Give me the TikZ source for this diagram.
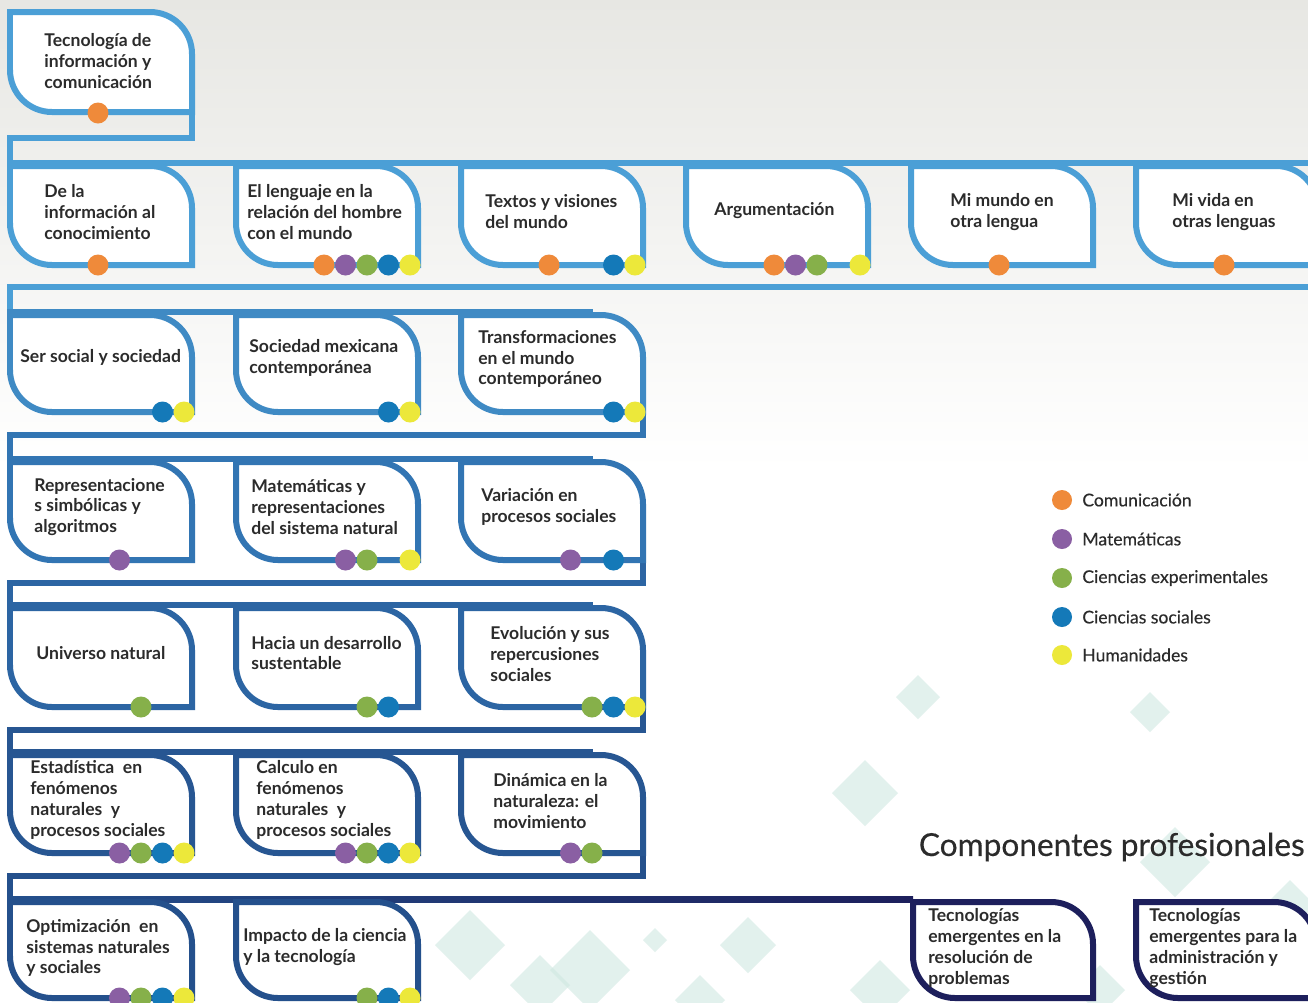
\documentclass[tikz,border=0pt]{standalone}
\usepackage{fontspec}
\setmainfont{Lato}
\newfontfamily\medianafont{Lato}[FakeBold=0.35]
\definecolor{fila1}{HTML}{4B9FD6}
\definecolor{fila2}{HTML}{3F8AC4}
\definecolor{fila3}{HTML}{3275B3}
\definecolor{fila4}{HTML}{2C65A3}
\definecolor{fila5}{HTML}{275692}
\definecolor{fila6}{HTML}{24508C}
\definecolor{prof}{HTML}{1D1F5C}
\definecolor{com}{HTML}{EF8A3A}
\definecolor{mat}{HTML}{8A5FA3}
\definecolor{exp}{HTML}{86B04A}
\definecolor{soc}{HTML}{1479B8}
\definecolor{hum}{HTML}{ECE83A}
\definecolor{texto}{HTML}{2B2B2B}
\definecolor{fondo}{HTML}{E7E7E3}
\definecolor{menta}{HTML}{CFE8E1}

\begin{document}
\begin{tikzpicture}[line join=miter,x=0.02cm,y=-0.02cm,
	enlace/.style={line width=0.12cm,line cap=rect},
	tarjeta/.style={line width=0.12cm,fill=white},
	curva/.style={rounded corners=0.84cm},
	tema/.style={anchor=west,align=left,inner sep=0pt,text=texto,font=\fontsize{10}{11.9}\selectfont\bfseries},
	leyenda/.style={anchor=west,inner sep=0pt,text=texto,font=\medianafont\fontsize{10}{12}\selectfont},
	rombo/.style={fill=menta,opacity=0.6}]
		\useasboundingbox (0,0) rectangle (1308,1002);
		\clip (0,0) rectangle (1308,1002);
		% fondo
		\fill [white] (0,0) rectangle (1308,1002);
		\shade [top color=fondo,bottom color=white] (0,0) rectangle (1308,470);
		\foreach \cx/\cy/\s in {918/697/22,1150/712/20,865/793/33,1175/862/35,1290/905/25,1240/960/30,470/945/35,540/985/30,590/970/40,655/940/12,748/945/28,700/1000/25,880/990/30,1100/990/25}
			\fill [rombo] (\cx,\cy-\s)-- (\cx+\s,\cy)-- (\cx,\cy+\s)-- (\cx-\s,\cy)-- cycle;
		% enlaces entre filas
		\draw [enlace,fila1] (192,110)-- (192,138)-- (10,138)-- (10,163)-- (1320,163);
		\draw [enlace,fila1] (1320,287)-- (10,287)-- (10,312);
		\draw [enlace,fila2] (10,312)-- (590,312);
		\draw [enlace,fila3] (643,410)-- (643,435)-- (10,435)-- (10,459)-- (590,459);
		\draw [enlace,fila4] (643,557)-- (643,583)-- (10,583)-- (10,605)-- (590,605);
		\draw [enlace,fila5] (643,704)-- (643,730)-- (10,730)-- (10,752)-- (590,752);
		\draw [enlace,fila6] (643,851)-- (643,876)-- (10,876)-- (10,899);
		\shade [left color=fila6,right color=prof] (7,896) rectangle (913,902);
		% tarjetas
		\draw [tarjeta,draw=fila1] (10,60)-- (10,12) [curva]-- (192,12) [sharp corners]-- (192,112) [curva]-- (10,112) [sharp corners]-- cycle;
		\foreach \L in {10,236,461,686,911,1136}
			\draw [tarjeta,draw=fila1] (\L,215)-- (\L,166) [curva]-- (\L+182,166) [sharp corners]-- (\L+182,265) [curva]-- (\L,265) [sharp corners]-- cycle;
		\foreach \L in {10,236,461}{
			\draw [tarjeta,draw=fila2] (\L,360)-- (\L,315) [curva]-- (\L+182,315) [sharp corners]-- (\L+182,412) [curva]-- (\L,412) [sharp corners]-- cycle;
			\draw [tarjeta,draw=fila3] (\L,510)-- (\L,462) [curva]-- (\L+182,462) [sharp corners]-- (\L+182,560) [curva]-- (\L,560) [sharp corners]-- cycle;
			\draw [tarjeta,draw=fila4] (\L,655)-- (\L,608) [curva]-- (\L+182,608) [sharp corners]-- (\L+182,707) [curva]-- (\L,707) [sharp corners]-- cycle;
			\draw [tarjeta,draw=fila5] (\L,800)-- (\L,755) [curva]-- (\L+182,755) [sharp corners]-- (\L+182,853) [curva]-- (\L,853) [sharp corners]-- cycle;
		}
		\foreach \L in {10,236}
			\draw [tarjeta,draw=fila6] (\L,950)-- (\L,902) [curva]-- (\L+182,902) [sharp corners]-- (\L+182,998) [curva]-- (\L,998) [sharp corners]-- cycle;
		\foreach \L in {913,1136}
			\draw [tarjeta,draw=prof] (\L,950)-- (\L,902) [curva]-- (\L+180,902) [sharp corners]-- (\L+180,998) [curva]-- (\L,998) [sharp corners]-- cycle;
		% textos
		\node [tema] (tic) at (44,61) {Tecnología de\\información y\\comunicación};
		\node [tema] (infoconoc) at (44,212) {De la\\información al\\conocimiento};
		\node [tema] (lenguaje) at (247,212) {El lenguaje en la\\relación del hombre\\con el mundo};
		\node [tema] (textos) at (485,212) {Textos y visiones\\del mundo};
		\node [tema] (argum) at (714,211) {Argumentación};
		\node [tema] (mimundo) at (950,212) {Mi mundo en\\otra lengua};
		\node [tema] (mivida) at (1172,212) {Mi vida en\\otras lenguas};
		\node [tema] (sersocial) at (20,357) {Ser social y sociedad};
		\node [tema] (socmex) at (249,358) {Sociedad mexicana\\contemporánea};
		\node [tema] (transf) at (478,359) {Transformaciones\\en el mundo\\contemporáneo};
		\node [tema] (represent) at (34,507) {Representacione\\s simbólicas y\\algoritmos};
		\node [tema] (matrep) at (251,507) {Matemáticas y\\representaciones\\del sistema natural};
		\node [tema] (variacion) at (481,507) {Variación en\\procesos sociales};
		\node [tema] (universo) at (36,653) {Universo natural};
		\node [tema] (hacia) at (251,653) {Hacia un desarrollo\\sustentable};
		\node [tema] (evolucion) at (490,654) {Evolución y sus\\repercusiones\\sociales};
		\node [tema] (estadistica) at (30,800) {Estadística~ en\\fenómenos\\naturales~ y\\procesos sociales};
		\node [tema] (calculo) at (256,800) {Calculo en\\fenómenos\\naturales~ y\\procesos sociales};
		\node [tema] (dinamica) at (493,801) {Dinámica en la\\naturaleza: el\\movimiento};
		\node [tema] (optimiz) at (26,948) {Optimización~ en\\sistemas naturales\\y sociales};
		\node [tema] (impacto) at (243,947) {Impacto de la ciencia\\y la tecnología};
		\node [tema] (tecres) at (928,948) {Tecnologías\\emergentes en la\\resolución de\\problemas};
		\node [tema] (tecadm) at (1149,948) {Tecnologías\\emergentes para la\\administración y\\gestión};
		% puntos de campo disciplinar
		\fill [com] (98,113) circle (0.21cm);
		\foreach \L/\B/\k/\c in {10/265/0/com,236/265/0/com,236/265/1/mat,236/265/2/exp,236/265/3/soc,236/265/4/hum,
				461/265/0/com,461/265/3/soc,461/265/4/hum,686/265/0/com,686/265/1/mat,686/265/2/exp,686/265/4/hum,
				911/265/0/com,1136/265/0/com,
				10/412/3/soc,10/412/4/hum,236/412/3/soc,236/412/4/hum,461/412/3/soc,461/412/4/hum,
				10/560/1/mat,236/560/1/mat,236/560/2/exp,236/560/4/hum,461/560/1/mat,461/560/3/soc,
				10/707/2/exp,236/707/2/exp,236/707/3/soc,461/707/2/exp,461/707/3/soc,461/707/4/hum,
				10/853/1/mat,10/853/2/exp,10/853/3/soc,10/853/4/hum,236/853/1/mat,236/853/2/exp,236/853/3/soc,236/853/4/hum,
				461/853/1/mat,461/853/2/exp,
				10/998/1/mat,10/998/2/exp,10/998/3/soc,10/998/4/hum,236/998/2/exp,236/998/3/soc,236/998/4/hum}
			\fill [\c] (\L+88+21.5*\k,\B) circle (0.21cm);
		% leyenda
		\foreach \y/\c/\t [count=\i] in {500/com/Comunicación,539/mat/Matemáticas,578/exp/Ciencias experimentales,617/soc/Ciencias sociales,655/hum/Humanidades}{
			\fill [\c] (1062,\y) circle (0.2cm);
			\node [leyenda] (ley\i) at (1082,\y) {\t};
		}
		\node [anchor=east,inner sep=0pt,text=texto,font=\medianafont\fontsize{18}{21}\selectfont] (titulo) at (1305,847) {Componentes profesionales};
	\end{tikzpicture}
\end{document}
